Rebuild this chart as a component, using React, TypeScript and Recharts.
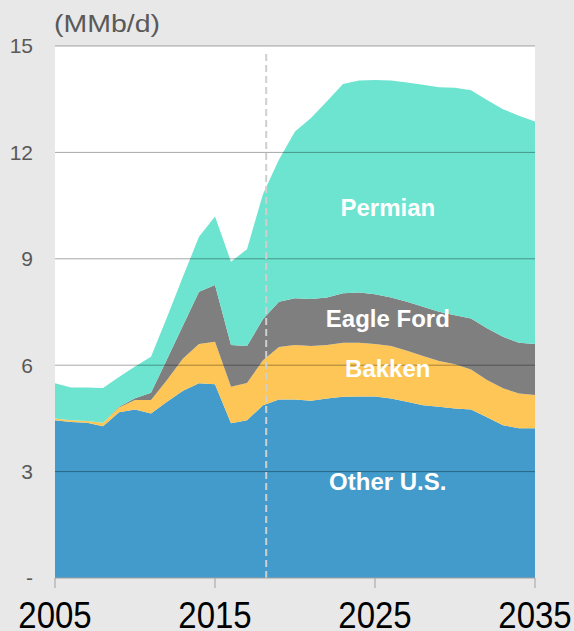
import React from 'react';
import {
  AreaChart, Area, XAxis, YAxis, CartesianGrid, ReferenceLine, ReferenceDot,
} from 'recharts';

const years = [
  2005, 2006, 2007, 2008, 2009, 2010, 2011, 2012, 2013, 2014, 2015, 2016, 2017, 2018, 2019, 2020,
  2021, 2022, 2023, 2024, 2025, 2026, 2027, 2028, 2029, 2030, 2031, 2032, 2033, 2034, 2035,
];
const otherUS = [
  4.45, 4.40, 4.38, 4.28, 4.67, 4.75, 4.64, 4.97, 5.28, 5.49, 5.46, 4.36, 4.45, 4.87, 5.03, 5.03,
  5.00, 5.06, 5.11, 5.12, 5.12, 5.06, 4.97, 4.87, 4.83, 4.78, 4.75, 4.53, 4.31, 4.22, 4.22,
];
const bakken = [
  0.05, 0.05, 0.05, 0.10, 0.14, 0.27, 0.38, 0.61, 0.91, 1.11, 1.20, 1.03, 1.05, 1.27, 1.48, 1.54,
  1.54, 1.51, 1.52, 1.51, 1.48, 1.48, 1.44, 1.39, 1.29, 1.25, 1.13, 1.05, 1.04, 0.98, 0.94,
];
const eagleFord = [
  0, 0, 0, 0, 0.02, 0.05, 0.20, 0.59, 0.93, 1.47, 1.60, 1.18, 1.04, 1.16, 1.28, 1.32,
  1.33, 1.34, 1.40, 1.42, 1.40, 1.37, 1.38, 1.39, 1.39, 1.38, 1.44, 1.46, 1.45, 1.43, 1.44,
];
const permian = [
  0.99, 0.92, 0.94, 0.98, 0.84, 0.89, 1.02, 1.18, 1.38, 1.55, 1.93, 2.35, 2.73, 3.53, 4.01, 4.70,
  5.10, 5.53, 5.90, 5.98, 6.04, 6.12, 6.18, 6.26, 6.33, 6.41, 6.43, 6.44, 6.42, 6.40, 6.27,
];

const xTicks = [2005, 2015, 2025, 2035];
const yTicks = [0, 3, 6, 9, 12, 15];
const gridValues = [3, 6, 9, 12, 15];
const forecastStart = 2018.2;
const unitLabel = '(MMb/d)';

const seriesLabels = [
  { name: 'Permian', x: 2025.8, y: 10.46 },
  { name: 'Eagle Ford', x: 2025.8, y: 7.32 },
  { name: 'Bakken', x: 2025.8, y: 5.91 },
  { name: 'Other U.S.', x: 2025.8, y: 2.72 },
];

const data = years.map((year, i) => ({
  year,
  other: otherUS[i],
  bakken: bakken[i],
  eagleFord: eagleFord[i],
  permian: permian[i],
}));

const FONT = '"Liberation Sans", Arial, sans-serif';

const XTick = (props: any) => {
  const { x, y, payload } = props;
  return (
    <g transform={`translate(${x},${y}) scale(1,1.13)`}>
      <text x={0} y={0} dy="0.71em" textAnchor="middle" fontSize={33} fill="#000" fontFamily={FONT}>
        {payload.value}
      </text>
    </g>
  );
};

const UnitLabel = () => (
  <text x={54} y={31.5} fontSize={23} fill="#595959" fontFamily={FONT} textLength={106} lengthAdjust="spacingAndGlyphs">
    {unitLabel}
  </text>
);

export default function App() {
  return (
    <div style={{ position: 'fixed', left: 0, top: 0, width: 574, height: 631, background: '#e8e8e8' }}>
      <AreaChart width={574} height={631} data={data} margin={{ top: 46, right: 39, bottom: 0, left: 0 }}>
        <CartesianGrid fill="#ffffff" horizontal={false} vertical={false} />
        <XAxis
          dataKey="year"
          type="number"
          domain={[2005, 2035]}
          ticks={xTicks}
          height={53}
          tickSize={10}
          tickMargin={14}
          stroke="#a0a0a0"
          axisLine={{ stroke: '#a0a0a0', strokeWidth: 1 }}
          tickLine={{ stroke: '#a0a0a0', strokeWidth: 1 }}
          tick={<XTick />}
          interval={0}
        />
        <YAxis
          type="number"
          domain={[0, 15]}
          ticks={yTicks}
          width={55}
          axisLine={false}
          tickLine={false}
          tickSize={0}
          tickMargin={22}
          interval={0}
          tickFormatter={(v: number) => (v === 0 ? '-' : String(v))}
          tick={{ fontSize: 21, fill: '#595959', fontFamily: FONT }}
          label={{ content: () => <UnitLabel /> }}
        />
        <Area type="linear" dataKey="other" stackId="1" fill="#429bca" fillOpacity={1} stroke="none" isAnimationActive={false} />
        <Area type="linear" dataKey="bakken" stackId="1" fill="#fdc656" fillOpacity={1} stroke="none" isAnimationActive={false} />
        <Area type="linear" dataKey="eagleFord" stackId="1" fill="#7f7f7f" fillOpacity={1} stroke="none" isAnimationActive={false} />
        <Area type="linear" dataKey="permian" stackId="1" fill="#6ce4d0" fillOpacity={1} stroke="none" isAnimationActive={false} />
        {gridValues.map((v) => (
          <ReferenceLine key={v} y={v} stroke="#000" strokeOpacity={0.35} strokeWidth={1} />
        ))}
        <ReferenceLine
          segment={[{ x: forecastStart, y: 0 }, { x: forecastStart, y: 14.85 }]}
          stroke="#cfcfcf"
          strokeWidth={2}
          strokeDasharray="7 4"
        />
        {seriesLabels.map((l) => (
          <ReferenceDot
            key={l.name}
            x={l.x}
            y={l.y}
            r={1}
            fill="none"
            stroke="none"
            label={{ value: l.name, fill: '#ffffff', fontSize: 24, fontWeight: 'bold', fontFamily: FONT, position: 'center' }}
          />
        ))}
      </AreaChart>
    </div>
  );
}
